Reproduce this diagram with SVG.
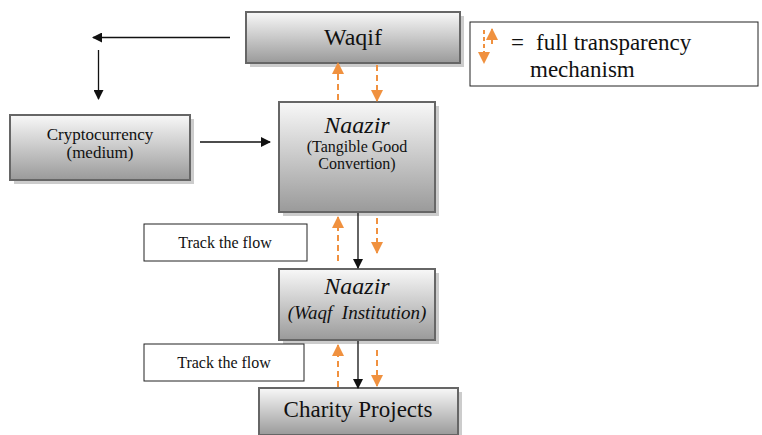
<svg xmlns="http://www.w3.org/2000/svg" width="762" height="435" viewBox="0 0 762 435">
<defs>
<linearGradient id="g" x1="0" y1="0" x2="0" y2="1">
<stop offset="0" stop-color="#f8f8f8"/>
<stop offset="1" stop-color="#9a9a9a"/>
</linearGradient>
<marker id="ab" markerWidth="10" markerHeight="10" refX="9" refY="5" orient="auto" markerUnits="userSpaceOnUse">
<path d="M0,0 L10,5 L0,10 z" fill="#111"/>
</marker>
<marker id="ao" markerWidth="12" markerHeight="12" refX="11" refY="6" orient="auto" markerUnits="userSpaceOnUse">
<path d="M0,0 L12,6 L0,12 z" fill="#f0913f"/>
</marker>
</defs>
<rect width="762" height="435" fill="#fff"/>
<g font-family="Liberation Serif" fill="#111" text-anchor="middle">
<g id="waqif">
<rect x="250" y="16" width="214" height="51" fill="#aaa" opacity="0.6"/>
<rect x="246" y="12" width="214" height="51" fill="url(#g)" stroke="#666" stroke-width="2"/>
<text x="353" y="45" font-size="24">Waqif</text>
</g>
<g id="legend">
<rect x="470" y="22" width="288" height="64" fill="#fff" stroke="#222" stroke-width="1"/>
<line x1="492" y1="44" x2="492" y2="29" stroke="#f0913f" stroke-width="2" stroke-dasharray="4,3" marker-end="url(#ao)"/>
<line x1="484" y1="30" x2="484" y2="63" stroke="#f0913f" stroke-width="2" stroke-dasharray="4,3" marker-end="url(#ao)"/>
<text x="511" y="50" font-size="23" text-anchor="start">=</text>
<text x="536" y="50" font-size="23" text-anchor="start">full transparency</text>
<text x="530" y="77" font-size="23" text-anchor="start">mechanism</text>
</g>
<g id="crypto">
<rect x="14" y="119" width="180" height="65" fill="#aaa" opacity="0.6"/>
<rect x="10" y="115" width="180" height="65" fill="url(#g)" stroke="#666" stroke-width="2"/>
<text x="100" y="140" font-size="17">Cryptocurrency</text>
<text x="100" y="158" font-size="17">(medium)</text>
</g>
<g id="naazir1">
<rect x="283" y="106" width="156" height="110" fill="#aaa" opacity="0.6"/>
<rect x="279" y="102" width="156" height="110" fill="url(#g)" stroke="#666" stroke-width="2"/>
<text x="357" y="133" font-size="24" font-style="italic">Naazir</text>
<text x="357" y="152" font-size="16">(Tangible Good</text>
<text x="357" y="169" font-size="16">Convertion)</text>
</g>
<g id="track1">
<rect x="144" y="224" width="163" height="37" fill="#fff" stroke="#222" stroke-width="1"/>
<text x="225" y="248" font-size="16">Track the flow</text>
</g>
<g id="naazir2">
<rect x="283" y="273" width="156" height="71" fill="#aaa" opacity="0.6"/>
<rect x="279" y="269" width="156" height="71" fill="url(#g)" stroke="#666" stroke-width="2"/>
<text x="357" y="294" font-size="24" font-style="italic">Naazir</text>
<text x="357" y="319" font-size="19" font-style="italic" xml:space="preserve">(Waqf  Institution)</text>
</g>
<g id="track2">
<rect x="144" y="344" width="160" height="37" fill="#fff" stroke="#222" stroke-width="1"/>
<text x="224" y="368" font-size="16">Track the flow</text>
</g>
<g id="charity">
<rect x="263" y="392" width="199" height="47" fill="#aaa" opacity="0.6"/>
<rect x="259" y="388" width="199" height="47" fill="url(#g)" stroke="#666" stroke-width="2"/>
<text x="358" y="417" font-size="23">Charity Projects</text>
</g>
</g>
<g id="connectors" fill="none">
<g stroke="#111" stroke-width="1.3" marker-end="url(#ab)">
<line x1="230" y1="37.5" x2="93" y2="37.5"/>
<line x1="98.5" y1="50" x2="98.5" y2="99"/>
<line x1="200" y1="142" x2="270" y2="142"/>
<line x1="358" y1="213" x2="358" y2="268"/>
<line x1="358" y1="341" x2="358" y2="388"/>
</g>
<g stroke="#f0913f" stroke-width="2" stroke-dasharray="6,4" marker-end="url(#ao)">
<line x1="338" y1="100" x2="338" y2="63"/>
<line x1="377" y1="65" x2="377" y2="101"/>
<line x1="338" y1="261" x2="338" y2="217"/>
<line x1="377" y1="218" x2="377" y2="253"/>
<line x1="338" y1="387" x2="338" y2="345"/>
<line x1="377" y1="350" x2="377" y2="386"/>
</g>
</g>
</svg>
